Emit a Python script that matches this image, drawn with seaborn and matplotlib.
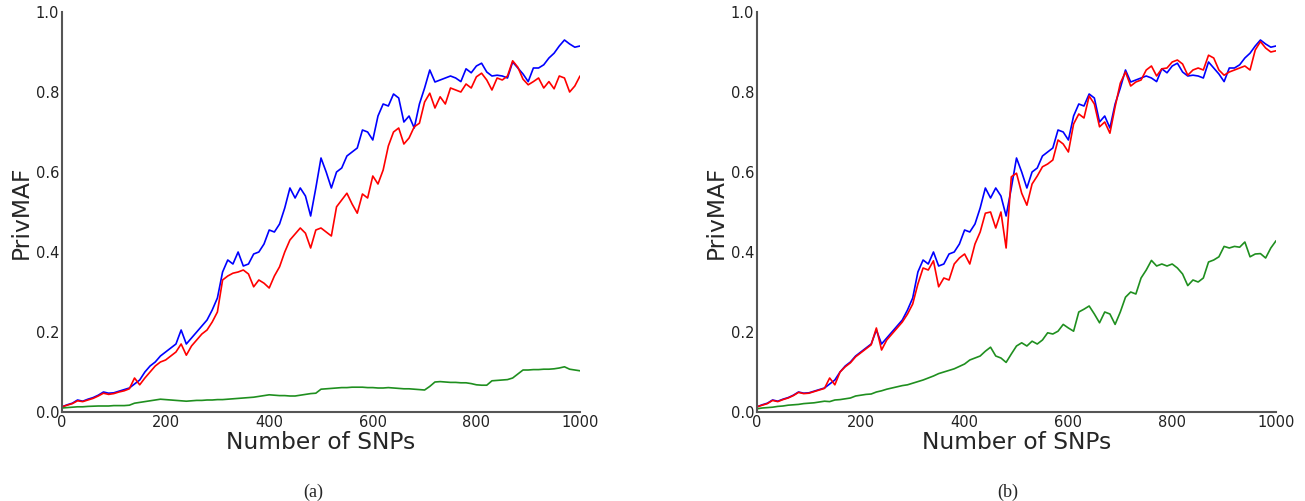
import numpy as np
import pandas as pd
import matplotlib
matplotlib.use("Agg")
import matplotlib.pyplot as plt
import seaborn as sns

SNPS = list(range(0, 1001, 10))

BLUE = [0.013, 0.018, 0.022, 0.030, 0.027, 0.032, 0.036, 0.042, 0.050, 0.047,
        0.048, 0.052, 0.056, 0.060, 0.070, 0.080, 0.100, 0.115, 0.125, 0.140,
        0.150, 0.160, 0.170, 0.205, 0.170, 0.185, 0.200, 0.215, 0.230, 0.255,
        0.285, 0.350, 0.380, 0.370, 0.400, 0.365, 0.370, 0.395, 0.400, 0.420,
        0.455, 0.450, 0.470, 0.510, 0.560, 0.535, 0.560, 0.540, 0.490, 0.560,
        0.635, 0.600, 0.560, 0.600, 0.610, 0.640, 0.650, 0.660, 0.705, 0.700,
        0.680, 0.740, 0.770, 0.765, 0.795, 0.785, 0.725, 0.740, 0.710, 0.770,
        0.810, 0.855, 0.825, 0.830, 0.835, 0.840, 0.835, 0.826, 0.858, 0.848,
        0.865, 0.872, 0.850, 0.840, 0.842, 0.840, 0.835, 0.875, 0.860, 0.845,
        0.826, 0.860, 0.860, 0.868, 0.885, 0.897, 0.915, 0.930, 0.920, 0.912,
        0.915]

RED_A = [0.013, 0.017, 0.021, 0.028, 0.026, 0.030, 0.034, 0.040, 0.047, 0.044,
         0.046, 0.050, 0.053, 0.058, 0.085, 0.068, 0.085, 0.100, 0.115, 0.125,
         0.130, 0.140, 0.150, 0.170, 0.142, 0.165, 0.180, 0.195, 0.205, 0.225,
         0.250, 0.330, 0.340, 0.347, 0.350, 0.355, 0.345, 0.313, 0.330, 0.322,
         0.310, 0.340, 0.363, 0.400, 0.430, 0.445, 0.460, 0.447, 0.410, 0.455,
         0.460, 0.450, 0.440, 0.513, 0.530, 0.547, 0.520, 0.497, 0.545, 0.535,
         0.590, 0.570, 0.605, 0.665, 0.700, 0.710, 0.670, 0.685, 0.713, 0.722,
         0.775, 0.797, 0.760, 0.788, 0.770, 0.810, 0.805, 0.800, 0.820, 0.810,
         0.838, 0.847, 0.830, 0.805, 0.835, 0.830, 0.840, 0.878, 0.862, 0.832,
         0.818, 0.826, 0.835, 0.810, 0.826, 0.808, 0.840, 0.835, 0.800, 0.815,
         0.840]

GREEN_A = [0.010, 0.011, 0.012, 0.013, 0.013, 0.014, 0.0145, 0.015, 0.015, 0.015,
           0.016, 0.016, 0.016, 0.017, 0.022, 0.024, 0.026, 0.028, 0.030, 0.032,
           0.031, 0.030, 0.029, 0.028, 0.027, 0.028, 0.029, 0.029, 0.030, 0.030,
           0.031, 0.031, 0.032, 0.033, 0.034, 0.035, 0.036, 0.037, 0.039, 0.041,
           0.043, 0.042, 0.041, 0.041, 0.040, 0.040, 0.042, 0.044, 0.046, 0.047,
           0.057, 0.058, 0.059, 0.060, 0.061, 0.061, 0.062, 0.062, 0.062, 0.061,
           0.061, 0.060, 0.060, 0.061, 0.060, 0.059, 0.058, 0.058, 0.057, 0.056,
           0.055, 0.064, 0.075, 0.076, 0.075, 0.074, 0.074, 0.073, 0.073, 0.071,
           0.068, 0.067, 0.067, 0.078, 0.079, 0.080, 0.081, 0.085, 0.095, 0.105,
           0.105, 0.106, 0.106, 0.107, 0.107, 0.108, 0.110, 0.113, 0.107, 0.105,
           0.103]

RED_B = [0.013, 0.017, 0.021, 0.029, 0.026, 0.031, 0.035, 0.041, 0.049, 0.046,
         0.047, 0.051, 0.055, 0.059, 0.085, 0.068, 0.100, 0.113, 0.123, 0.138,
         0.148, 0.158, 0.168, 0.210, 0.155, 0.180, 0.195, 0.210, 0.225, 0.245,
         0.270, 0.320, 0.360, 0.355, 0.378, 0.313, 0.335, 0.330, 0.370, 0.385,
         0.395, 0.370, 0.420, 0.450, 0.497, 0.500, 0.460, 0.500, 0.410, 0.588,
         0.597, 0.547, 0.517, 0.570, 0.590, 0.613, 0.620, 0.630, 0.680, 0.670,
         0.650, 0.720, 0.745, 0.735, 0.790, 0.770, 0.713, 0.725, 0.697, 0.763,
         0.822, 0.850, 0.815, 0.825, 0.830, 0.855, 0.865, 0.840, 0.858, 0.860,
         0.875, 0.880, 0.870, 0.842, 0.855, 0.860, 0.855, 0.892, 0.885, 0.855,
         0.842, 0.850, 0.855, 0.860, 0.865, 0.855, 0.905, 0.926, 0.910, 0.900,
         0.903]

GREEN_B = [0.008, 0.010, 0.011, 0.012, 0.014, 0.015, 0.017, 0.018, 0.019, 0.021,
           0.022, 0.023, 0.025, 0.027, 0.026, 0.030, 0.031, 0.033, 0.035, 0.040,
           0.042, 0.044, 0.045, 0.050, 0.053, 0.057, 0.060, 0.063, 0.066, 0.068,
           0.072, 0.076, 0.080, 0.085, 0.090, 0.096, 0.100, 0.104, 0.108, 0.114,
           0.120, 0.130, 0.135, 0.140, 0.152, 0.162, 0.140, 0.135, 0.124, 0.145,
           0.165, 0.173, 0.165, 0.177, 0.170, 0.180, 0.198, 0.195, 0.202, 0.219,
           0.210, 0.202, 0.250, 0.257, 0.265, 0.245, 0.223, 0.250, 0.245, 0.219,
           0.250, 0.287, 0.300, 0.295, 0.335, 0.355, 0.379, 0.365, 0.370, 0.365,
           0.370, 0.360, 0.345, 0.316, 0.330, 0.325, 0.335, 0.375, 0.380, 0.388,
           0.414, 0.410, 0.414, 0.412, 0.425, 0.388, 0.395, 0.396, 0.385, 0.410,
           0.428]

X_TICKS = [0, 200, 400, 600, 800, 1000]
Y_TICKS = [0.0, 0.2, 0.4, 0.6, 0.8, 1.0]
CAPTIONS = ["(a)", "(b)"]

sns.set_style("white")
plt.rcParams['font.family'] = ['DejaVu Sans']

fig = plt.figure(figsize=(13.05, 5.01), dpi=100)
ax_a = fig.add_axes([62 / 1305, 89 / 501, 518 / 1305, 400 / 501])
ax_b = fig.add_axes([757 / 1305, 89 / 501, 519 / 1305, 400 / 501])

panels = [(ax_a, RED_A, GREEN_A), (ax_b, RED_B, GREEN_B)]
for ax, red, green in panels:
    sns.lineplot(x=SNPS, y=BLUE, color="#0000ff", lw=1.2, ax=ax)
    sns.lineplot(x=SNPS, y=red, color="#ff0000", lw=1.2, ax=ax)
    sns.lineplot(x=SNPS, y=green, color="#1f8f1f", lw=1.2, ax=ax)
    ax.set_xlim(0, 1000)
    ax.set_ylim(0, 1.0)
    ax.set_xticks(X_TICKS)
    ax.set_xticklabels([str(t) for t in X_TICKS])
    ax.set_yticks(Y_TICKS)
    ax.set_yticklabels([f"{t:.1f}" for t in Y_TICKS])
    ax.tick_params(axis="both", length=0, labelsize=10.5, pad=2, colors="#222222")
    ax.set_xlabel("Number of SNPs", fontsize=16.8, labelpad=1)
    ax.set_ylabel("PrivMAF", fontsize=16.8, labelpad=2)
    sns.despine(ax=ax)
    for s in ("left", "bottom"):
        ax.spines[s].set_color("#555555")
        ax.spines[s].set_linewidth(1.5)

fig.text(313 / 1305, 1 - 492 / 501, CAPTIONS[0], ha="center", va="center",
         fontsize=13, family=["Liberation Serif", "DejaVu Serif"])
fig.text(1008 / 1305, 1 - 492 / 501, CAPTIONS[1], ha="center", va="center",
         fontsize=13, family=["Liberation Serif", "DejaVu Serif"])

fig.savefig("out.png", dpi=100)
